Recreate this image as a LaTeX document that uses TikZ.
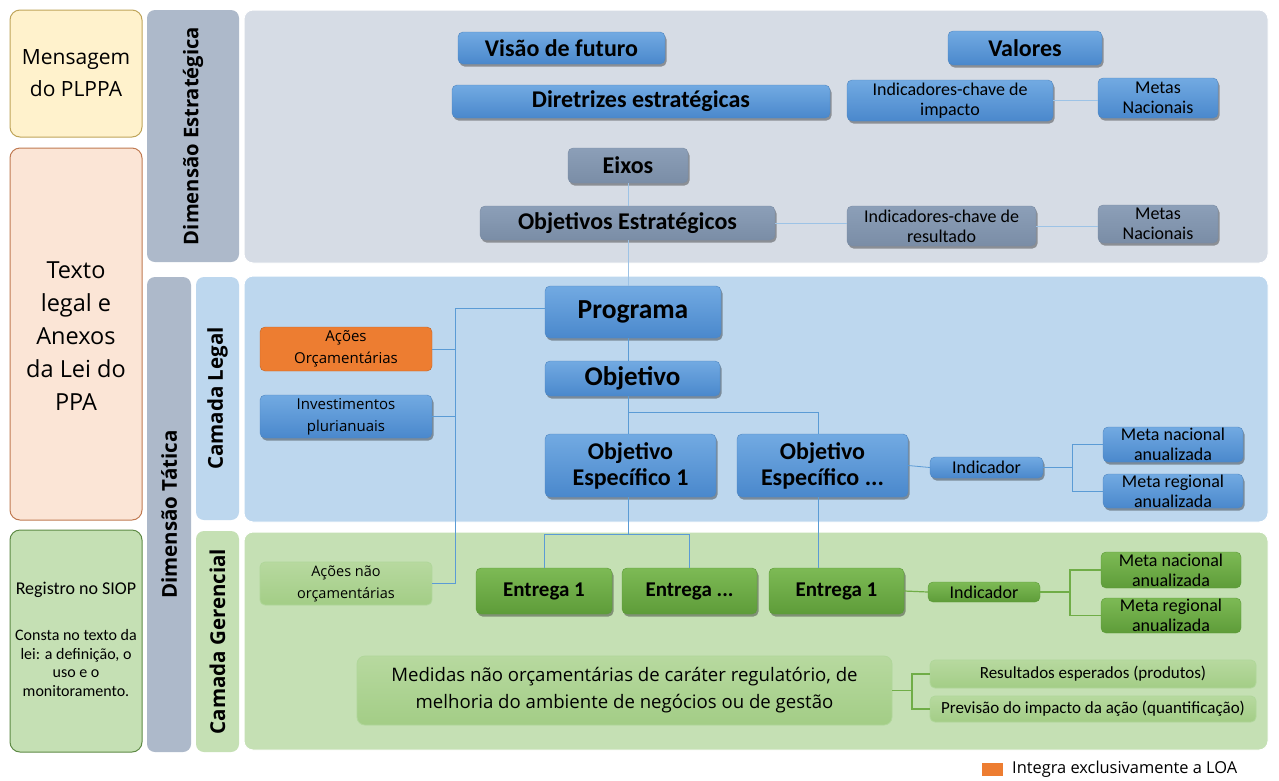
\documentclass[tikz,border=0pt]{standalone}
\usepackage{fontspec}
\setmainfont{Carlito}
\newfontfamily\seg{Open Sans}
\usetikzlibrary{shadows}
\definecolor{blueT}{HTML}{72AAE2}
\definecolor{blueB}{HTML}{4A88CC}
\definecolor{blueD}{HTML}{4F86C0}
\definecolor{grayT}{HTML}{8C9FB8}
\definecolor{grayB}{HTML}{7A8DA6}
\definecolor{grayD}{HTML}{7A8BA2}
\definecolor{greenT}{HTML}{7DBA55}
\definecolor{greenB}{HTML}{5E9C39}
\definecolor{greenD}{HTML}{5C9A38}
\definecolor{lgT}{HTML}{B7D99F}
\definecolor{lgB}{HTML}{A3CD86}
\definecolor{lgD}{HTML}{B0D79A}
\definecolor{orangeF}{HTML}{ED7D31}
\definecolor{panelS}{HTML}{D6DCE5}
\definecolor{panelL}{HTML}{BDD7EE}
\definecolor{panelG}{HTML}{C5E0B4}
\definecolor{barS}{HTML}{ADB9CA}
\definecolor{msgF}{HTML}{FFF2CC}
\definecolor{msgD}{HTML}{BFA55A}
\definecolor{txtF}{HTML}{FBE5D6}
\definecolor{txtD}{HTML}{C07A52}
\definecolor{regD}{HTML}{5E8A45}
\definecolor{lineS}{HTML}{9DC3E6}
\definecolor{lineL}{HTML}{5B9BD5}
\definecolor{lineG}{HTML}{70AD47}
\tikzset{
  box/.style={rounded corners=5pt, inner sep=0pt, align=center, text=black},
  shd/.style={drop shadow={shadow xshift=1.5pt, shadow yshift=-2.5pt, opacity=0.35, fill=black}},
  bluebox/.style={box, shd, top color=blueT, bottom color=blueB, draw=blueD, line width=0.4pt},
  graybox/.style={box, shd, top color=grayT, bottom color=grayB, draw=grayD, line width=0.4pt},
  greenbox/.style={box, shd, top color=greenT, bottom color=greenB, draw=greenD, line width=0.4pt},
  smallgreen/.style={box, top color=greenT, bottom color=greenB, draw=greenD, line width=0.4pt},
  lgbox/.style={box, top color=lgT, bottom color=lgB, draw=lgD, line width=0.8pt},
  orbox/.style={box, fill=orangeF, draw=orangeF!80!black, line width=0.4pt},
  panel/.style={rounded corners=9pt, inner sep=0pt, draw=white, line width=1pt},
  bar/.style={rounded corners=8pt, inner sep=0pt, align=center},
  fbig/.style={font=\bfseries\fontsize{24}{25}\selectfont},
  fsm/.style={font=\fontsize{18}{20}\selectfont},
  rot/.style={font=\seg\bfseries\fontsize{20.5}{21}\selectfont},
  lnS/.style={draw=lineS, line width=0.8pt},
  lnL/.style={draw=lineL, line width=0.8pt},
  lnG/.style={draw=lineG, line width=1.2pt},
}
\begin{document}
\begin{tikzpicture}[x=1pt,y=-1pt]
\useasboundingbox (0,0) rectangle (1279,780);
\fill[white] (0,0) rectangle (1279,780);
% left column
\node[box, rounded corners=10pt, fill=msgF, draw=msgD, line width=1pt, minimum width=132, minimum height=127,
  font=\seg\fontsize{21}{32}\selectfont] (msg) at (76,73.5) {Mensagem\\do PLPPA};
\node[box, rounded corners=10pt, fill=txtF, draw=txtD, line width=1pt, minimum width=132, minimum height=372] (txt) at (76,334) {};
\node[align=center, font=\seg\fontsize{23.5}{33}\selectfont] (txtl) at (76,336) {Texto\\legal e\\Anexos\\da Lei do\\PPA};
\node[box, rounded corners=10pt, fill=panelG, draw=regD, line width=1pt, minimum width=132, minimum height=222] (reg) at (76,641) {};
\node[align=center, font=\fontsize{18}{20}\selectfont] (regt) at (76,590) {Registro no SIOP};
\node[align=center, font=\fontsize{16}{18.5}\selectfont] (regs) at (76,663) {Consta no texto da\\lei: a definição, o\\uso e o\\monitoramento.};
% bars
\node[bar, fill=barS, minimum width=92, minimum height=252] (bs) at (193,136) {};
\node[rot, font=\seg\bfseries\fontsize{20.2}{21}\selectfont, rotate=90] at (bs) {Dimensão Estratégica};
\node[bar, fill=barS, minimum width=44, minimum height=475] (bt) at (169,514.5) {};
\node[rot, rotate=90] at (bt) {Dimensão Tática};
\node[bar, fill=panelL, minimum width=43, minimum height=243] (bl) at (217.5,398.5) {};
\node[rot, rotate=90] at (bl) {Camada Legal};
\node[bar, fill=panelG, minimum width=43, minimum height=221] (bg) at (217.5,641.5) {};
\node[rot, rotate=90] at (bg) {Camada Gerencial};
% panels
\node[panel, fill=panelS, minimum width=1024, minimum height=253] (ps) at (756,136.5) {};
\node[panel, fill=panelL, minimum width=1024, minimum height=246] (pl) at (756,399) {};
\node[panel, fill=panelG, minimum width=1024, minimum height=218] (pg) at (756,641) {};
% strategic nodes
\node[bluebox, fbig, minimum width=207, minimum height=32] (vis) at (561.5,48) {Visão de futuro};
\node[bluebox, fbig, minimum width=154, minimum height=34] (val) at (1025,48) {Valores};
\node[bluebox, fbig, minimum width=378, minimum height=33] (dir) at (641,101.5) {Diretrizes estratégicas};
\node[bluebox, fsm, minimum width=206, minimum height=41] (ici) at (950,100.5) {Indicadores-chave de\\impacto};
\node[bluebox, fsm, minimum width=120, minimum height=40] (mn1) at (1158,98) {Metas\\Nacionais};
\node[graybox, fbig, minimum width=120, minimum height=35] (eix) at (628,165.5) {Eixos};
\node[graybox, fbig, minimum width=295, minimum height=34] (oes) at (627.5,223) {Objetivos Estratégicos};
\node[graybox, fsm, minimum width=189, minimum height=40] (icr) at (941.5,226) {Indicadores-chave de\\resultado};
\node[graybox, fsm, minimum width=120, minimum height=38] (mn2) at (1158,224) {Metas\\Nacionais};
% legal nodes
\node[bluebox, font=\bfseries\fontsize{27.5}{28}\selectfont, minimum width=176, minimum height=52] (prog) at (633,312) {Programa};
\node[bluebox, font=\bfseries\fontsize{27}{28}\selectfont, minimum width=175, minimum height=35] (obj) at (632.5,378.5) {Objetivo};
\node[orbox, font=\seg\fontsize{15}{22}\selectfont, minimum width=172, minimum height=44] (aco) at (346,349) {Ações\\Orçamentárias};
\node[bluebox, font=\seg\fontsize{15}{22}\selectfont, minimum width=172, minimum height=43] (inv) at (346,416.5) {Investimentos\\plurianuais};
\node[bluebox, font=\bfseries\fontsize{24}{26}\selectfont, minimum width=171, minimum height=63] (oe1) at (630.5,465.5) {Objetivo\\Específico 1};
\node[bluebox, font=\bfseries\fontsize{24}{26}\selectfont, minimum width=171, minimum height=63] (oe2) at (822.5,465.5) {Objetivo\\Específico ...};
\node[bluebox, fsm, minimum width=113, minimum height=21] (ind1) at (986.5,467.5) {Indicador};
\node[bluebox, fsm, minimum width=140, minimum height=35] (mna1) at (1173,444.5) {Meta nacional\\anualizada};
\node[bluebox, fsm, minimum width=140, minimum height=34] (mra1) at (1173,491) {Meta regional\\anualizada};
% gerencial nodes
\node[lgbox, font=\seg\fontsize{14.5}{22}\selectfont, minimum width=172, minimum height=43] (anao) at (346,583.5) {Ações não\\orçamentárias};
\node[greenbox, font=\bfseries\fontsize{21}{22}\selectfont, minimum width=136, minimum height=46] (ent1) at (544,591) {Entrega 1};
\node[greenbox, font=\bfseries\fontsize{21}{22}\selectfont, minimum width=135, minimum height=46] (ent2) at (689.5,591) {Entrega ...};
\node[greenbox, font=\bfseries\fontsize{21}{22}\selectfont, minimum width=135, minimum height=46] (ent3) at (836.5,591) {Entrega 1};
\node[smallgreen, fsm, minimum width=112, minimum height=20] (ind2) at (984,592) {Indicador};
\node[smallgreen, fsm, minimum width=140, minimum height=36] (mna2) at (1171,570) {Meta nacional\\anualizada};
\node[smallgreen, fsm, minimum width=140, minimum height=35] (mra2) at (1171,615.5) {Meta regional\\anualizada};
\node[lgbox, rounded corners=8pt, font=\seg\fontsize{18.6}{27}\selectfont, minimum width=535, minimum height=69] (med) at (624.5,690.5) {Medidas não orçamentárias de caráter regulatório, de\\melhoria do ambiente de negócios ou de gestão};
\node[lgbox, font=\fontsize{17}{18}\selectfont, minimum width=326, minimum height=28] (res) at (1093,674) {Resultados esperados (produtos)};
\node[lgbox, font=\fontsize{17}{18}\selectfont, minimum width=326, minimum height=26] (prev) at (1093,709) {Previsão do impacto da ação (quantificação)};
% legend
\node[fill=orangeF, inner sep=0pt, minimum width=21, minimum height=13] (leg) at (992.5,769.5) {};
\node[anchor=west, inner sep=0pt, font=\seg\fontsize{16.4}{17}\selectfont] (legt) at (1012,769.5) {Integra exclusivamente a LOA};
% coordinates
\coordinate (busT) at (455,308);
\coordinate (br) at (628,412);
\coordinate (fk1) at (1072,467.5);
\coordinate (j1) at (628,534);
\coordinate (fk2) at (1070,592);
\coordinate (fk3) at (912,690.5);
% connectors
\draw[lnS] (ici.east) -- (ici.east -| mn1.west);
\draw[lnS] (oes.east) -- (oes.east -| icr.west);
\draw[lnS] (icr.east) -- (icr.east -| mn2.west);
\draw[lnS] (eix.south) -- (oes.north -| eix.south);
\draw[lnS] (oes.south -| eix.south) -- (prog.north -| eix.south);
\draw[lnL] (prog.west |- busT) -- (busT) |- (anao.east);
\draw[lnL] (aco.east) -- (aco.east -| busT);
\draw[lnL] (inv.east) -- (inv.east -| busT);
\draw[lnL] (prog.south -| eix.south) -- (obj.north -| eix.south);
\draw[lnL] (obj.south -| eix.south) -- (oe1.north -| eix.south);
\draw[lnL] (br) -- (br -| 818,0) -- (oe2.north -| 818,0);
\draw[lnL] (oe2.east) -- (ind1.west);
\draw[lnL] (ind1.east) -- (fk1);
\draw[lnL] (mna1.west) -| (fk1) |- (mra1.west);
\draw[lnL] (oe1.south -| j1) -- (j1);
\draw[lnL] (ent1.north) |- (j1) -| (ent2.north);
\draw[lnL] (oe2.south -| 818,0) -- (ent3.north -| 818,0);
\draw[lnG] (ent3.east) -- (ind2.west);
\draw[lnG] (ind2.east) -- (fk2);
\draw[lnG] (mna2.west) -| (fk2) |- (mra2.west);
\draw[lnG] (med.east) -- (fk3);
\draw[lnG] (res.west) -| (fk3) |- (prev.west);
\end{tikzpicture}
\end{document}
